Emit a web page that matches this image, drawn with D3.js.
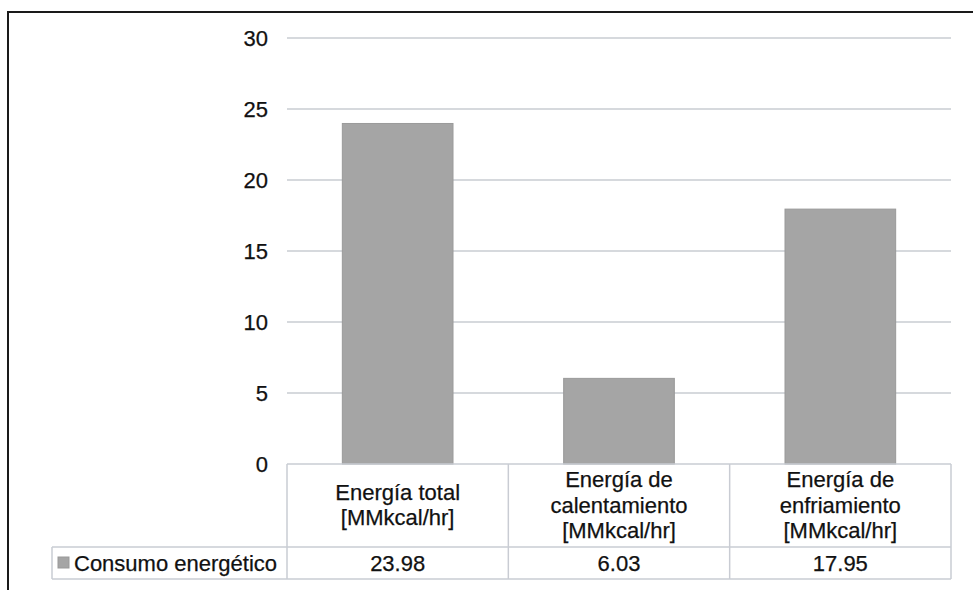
<!DOCTYPE html>
<html lang="es">
<head>
<meta charset="utf-8"/>
<title>Consumo energético</title>
<script src="https://cdnjs.cloudflare.com/ajax/libs/d3/7.8.5/d3.min.js"></script>
<style>
  body { margin: 0; background: #fff; }
  svg { display: block; }
  text { font-family: "Liberation Sans", Arial, Helvetica, sans-serif; fill: #111; stroke: #111; stroke-width: 0.25px; }
</style>
</head>
<body>
<div id="chart"></div>
<script>
// data
var categories = [
  ["Energía total", "[MMkcal/hr]"],
  ["Energía de", "calentamiento", "[MMkcal/hr]"],
  ["Energía de", "enfriamiento", "[MMkcal/hr]"]
];
var values = [23.98, 6.03, 17.95];
var valueLabels = ["23.98", "6.03", "17.95"];
var seriesName = "Consumo energético";
var yTicks = [0, 5, 10, 15, 20, 25, 30];

var W = 973, H = 590;
var plotL = 287, plotR = 951, plotT = 38, plotB = 464;
var rowTop = 547, rowBottom = 579, legendLeft = 52;
var fs = 22;

var svg = d3.select("#chart").append("svg")
  .attr("width", W).attr("height", H);

// outer frame
svg.append("rect")
  .attr("x", 8).attr("y", 12)
  .attr("width", W + 20).attr("height", H + 20)
  .attr("fill", "none").attr("stroke", "#1a1a1a").attr("stroke-width", 2);

var x = d3.scaleBand().domain(d3.range(categories.length))
  .range([plotL, plotR]).paddingInner(0).paddingOuter(0);
var y = d3.scaleLinear().domain([0, 30]).range([plotB, plotT]);

// gridlines
svg.append("g").selectAll("line").data(yTicks.filter(function(d){ return d > 0; }))
  .join("line")
  .attr("x1", plotL).attr("x2", plotR)
  .attr("y1", function(d){ return y(d); }).attr("y2", function(d){ return y(d); })
  .attr("stroke", "#c9cdd2").attr("stroke-width", 1.5);

// y axis labels
var yAxis = d3.axisLeft(y).tickValues(yTicks).tickSize(0).tickPadding(19);
var ya = svg.append("g").attr("transform", "translate(" + plotL + ",0)").call(yAxis);
ya.select(".domain").remove();
ya.selectAll("text").attr("font-size", fs).attr("fill", "#111")
  .attr("font-family", "Liberation Sans, Arial, sans-serif");

// bars
var bw = x.bandwidth() * 0.5;
svg.append("g").selectAll("rect").data(values)
  .join("rect")
  .attr("x", function(d, i){ return x(i) + (x.bandwidth() - bw) / 2; })
  .attr("y", function(d){ return y(d); })
  .attr("width", bw)
  .attr("height", function(d){ return y(0) - y(d); })
  .attr("fill", "#a5a5a5").attr("stroke", "#9a9a9a").attr("stroke-width", 1);

// data table
var tbl = svg.append("g");
var lineCol = "#c9ccd3";
tbl.append("line").attr("x1", plotL).attr("x2", plotR).attr("y1", plotB).attr("y2", plotB)
  .attr("stroke", lineCol).attr("stroke-width", 1.5);
tbl.append("line").attr("x1", legendLeft).attr("x2", plotR).attr("y1", rowTop).attr("y2", rowTop)
  .attr("stroke", lineCol).attr("stroke-width", 1.5);
tbl.append("line").attr("x1", legendLeft).attr("x2", plotR).attr("y1", rowBottom).attr("y2", rowBottom)
  .attr("stroke", lineCol).attr("stroke-width", 1.5);
tbl.append("line").attr("x1", legendLeft).attr("x2", legendLeft).attr("y1", rowTop).attr("y2", rowBottom)
  .attr("stroke", lineCol).attr("stroke-width", 1.5);
tbl.selectAll("line.v").data(d3.range(categories.length + 1))
  .join("line").attr("class", "v")
  .attr("x1", function(i){ return i < categories.length ? x(i) : plotR; })
  .attr("x2", function(i){ return i < categories.length ? x(i) : plotR; })
  .attr("y1", plotB).attr("y2", rowBottom)
  .attr("stroke", lineCol).attr("stroke-width", 1.5);

// category headers
var lh = 25.5, hc = 505;
tbl.selectAll("text.cat").data(categories)
  .join("text").attr("class", "cat")
  .attr("text-anchor", "middle")
  .attr("font-size", fs)
  .each(function(lines, i){
    var t = d3.select(this);
    var y0 = hc - (lines.length - 1) * lh / 2;
    lines.forEach(function(s, k){
      t.append("tspan").attr("x", x(i) + x.bandwidth() / 2)
        .attr("y", y0 + k * lh).attr("dy", "0.35em").text(s);
    });
  });

// values row
tbl.selectAll("text.val").data(valueLabels)
  .join("text").attr("class", "val")
  .attr("text-anchor", "middle").attr("font-size", fs)
  .attr("x", function(d, i){ return x(i) + x.bandwidth() / 2; })
  .attr("y", (rowTop + rowBottom) / 2).attr("dy", "0.35em")
  .text(function(d){ return d; });

// legend key
tbl.append("rect").attr("x", 58).attr("y", 557).attr("width", 11).attr("height", 11)
  .attr("fill", "#a5a5a5").attr("stroke", "#999");
tbl.append("text").attr("x", 74).attr("y", (rowTop + rowBottom) / 2).attr("dy", "0.35em")
  .attr("font-size", fs).text(seriesName);
</script>
</body>
</html>
